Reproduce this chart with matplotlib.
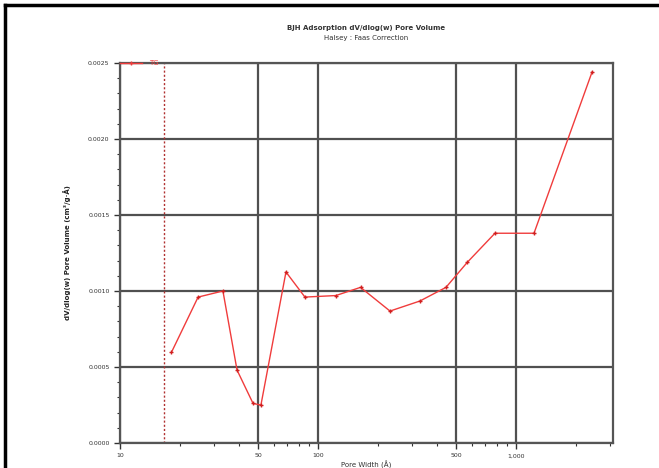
import numpy as np
import matplotlib.pyplot as plt
from matplotlib.ticker import FixedLocator, FuncFormatter, LogLocator, MultipleLocator

# BJH adsorption dV/dlog(w) data
pore_width = [18.2, 24.8, 33.1, 39.0, 47.0, 51.5, 68.9, 85.9, 123, 164, 231, 327, 443, 568, 783, 1233, 2421]
pore_volume = [0.000597, 0.00096, 0.00100, 0.00048, 0.00026, 0.00025, 0.001125, 0.00096, 0.00097,
               0.001024, 0.000868, 0.000934, 0.001024, 0.001189, 0.00138, 0.00138, 0.00244]
x_ticks = [10, 50, 100, 500, 1000]
x_ticklabels = ['10', '50', '100', '500', '1,000']
cutoff = 16.7

fig = plt.figure(figsize=(6.59, 4.68), dpi=100)
ax = fig.add_axes([120 / 659, 25 / 468, 493 / 659, 380 / 468])

red = '#f03c3c'
ax.plot(pore_width, pore_volume, color=red, lw=1.0)
ax.plot(pore_width, pore_volume, ls='none', marker='+', ms=3, mew=1.0, color='#d02020')
ax.axvline(cutoff, color='#b03030', lw=1.0, ls=(0, (1.5, 1.5)))

ax.set_xscale('log')
ax.set_xlim(10, 3090)
ax.set_ylim(0, 0.0025)

ax.xaxis.set_major_locator(FixedLocator(x_ticks))
ax.xaxis.set_major_formatter(FuncFormatter(lambda v, p: x_ticklabels[x_ticks.index(v)] if v in x_ticks else ''))
ax.xaxis.set_minor_locator(LogLocator(base=10, subs=np.arange(2, 10)))
ax.xaxis.set_minor_formatter(FuncFormatter(lambda v, p: ''))
ax.yaxis.set_major_locator(MultipleLocator(0.0005))
ax.yaxis.set_minor_locator(MultipleLocator(0.0001))
ax.yaxis.set_major_formatter(FuncFormatter(lambda v, p: f'{v:.4f}'))

ax.grid(True, which='major', color='#505050', lw=1.6)
ax.tick_params(which='major', length=4, width=1.0, labelsize=4.5, colors='#333333')
ax.tick_params(which='minor', length=2, width=0.8, colors='#333333')
for s in ax.spines.values():
    s.set_color('#555555')
    s.set_linewidth(1.6)

ax.set_xlabel('Pore Width (Å)', fontsize=5, labelpad=2, color='#333333')
ax.set_ylabel('dV/dlog(w) Pore Volume (cm³/g·Å)', fontsize=5, labelpad=12,
              fontweight='bold', color='#222222')

fig.text(366 / 659, 1 - 28 / 468, 'BJH Adsorption dV/dlog(w) Pore Volume', ha='center', va='center',
         fontsize=5, fontweight='bold', color='#333333')
fig.text(366 / 659, 1 - 38 / 468, 'Halsey : Faas Correction', ha='center', va='center',
         fontsize=5, color='#333333')

leg = ax.legend([plt.Line2D([], [], color=red, marker='+', ms=3, lw=1.0)], ['TG'],
                loc='center left', bbox_to_anchor=(0.0, 1.0), frameon=False, fontsize=5,
                handlelength=3.2, handletextpad=1.0, borderaxespad=0, borderpad=0)
for t in leg.get_texts():
    t.set_color(red)

# black frame on the left and top
fig.add_artist(plt.Line2D([5 / 659, 5 / 659], [0, 1 - 5 / 468], color='black', lw=2.5))
fig.add_artist(plt.Line2D([5 / 659, 1], [1 - 5 / 468, 1 - 5 / 468], color='black', lw=2.5))

fig.savefig('out.png', dpi=100)
